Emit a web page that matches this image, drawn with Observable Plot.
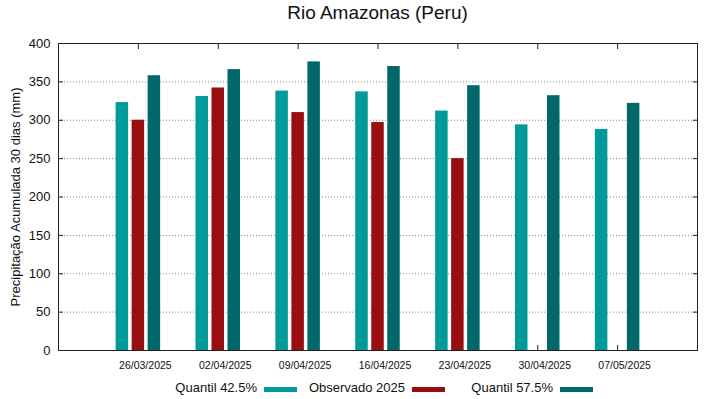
<!DOCTYPE html>
<html>
<head>
<meta charset="utf-8">
<script src="https://cdn.jsdelivr.net/npm/d3@7"></script>
<script src="https://cdn.jsdelivr.net/npm/@observablehq/plot@0.6"></script>
<style>
  html, body { margin: 0; padding: 0; background: #fff; }
  #wrap { position: relative; width: 719px; height: 399px; font-family: "Liberation Sans", Arial, sans-serif; color: #111; }
  #title { position: absolute; left: 58px; width: 639px; top: 1px; text-align: center; font-size: 19px; line-height: 24px; }
  #legend { position: absolute; left: 149px; top: 379.5px; display: flex; font-size: 13px; line-height: 16px; }
  .item { width: 148px; display: flex; justify-content: flex-end; align-items: center; }
  .sw { width: 33px; height: 5px; margin-left: 7px; position: relative; top: 1.5px; }
  #chart { position: absolute; left: 0; top: 0; }
</style>
</head>
<body>
<div id="wrap">
  <div id="chart"></div>
  <div id="title"></div>
  <div id="legend"></div>
</div>
<script>
const title = "Rio Amazonas (Peru)";
const yLabel = "Precipitação Acumulada 30 dias (mm)";
const dates = ["26/03/2025", "02/04/2025", "09/04/2025", "16/04/2025", "23/04/2025", "30/04/2025", "07/05/2025"];
const q425 = [323, 331, 338, 337, 312, 294, 288];
const obs2025 = [300, 342, 310, 297, 250, null, null];
const q575 = [358, 366, 376, 370, 345, 332, 322];
const yTicks = [0, 50, 100, 150, 200, 250, 300, 350, 400];
const seriesNames = ["Quantil 42.5%", "Observado 2025", "Quantil 57.5%"];
const seriesColors = ["#009a9a", "#990e0e", "#006868"];

const rows = dates.map((d, i) => ({date: d, q425: q425[i], obs: obs2025[i], q575: q575[i]}));

const W = 719, H = 399, mL = 58, mR = 22, mT = 43, mB = 49;
const step = (W - mL - mR) / (dates.length + 1);
const barW = 12.5, gap = 16;
function insets(k) {
  const left = step / 2 + k * gap - barW / 2;
  return {insetLeft: left, insetRight: step - left - barW};
}

const blank = () => "";
const chart = Plot.plot({
  width: W, height: H,
  marginLeft: mL, marginRight: mR, marginTop: mT, marginBottom: mB,
  style: {fontFamily: "Liberation Sans, Arial, sans-serif", fontSize: "13px", color: "#111", background: "#fff"},
  x: {type: "band", domain: dates, paddingInner: 0, paddingOuter: 0.5, round: false},
  y: {domain: [0, 400]},
  marks: [
    Plot.gridY(yTicks.slice(1, -1), {stroke: "#888", strokeOpacity: 1, strokeDasharray: "1,2"}),
    Plot.axisY(yTicks, {anchor: "left", tickSize: 0, tickPadding: 8, fontSize: 13, label: yLabel, labelAnchor: "center", labelOffset: 48, labelArrow: "none"}),
    Plot.axisY(yTicks, {anchor: "left", tickSize: 5, dx: 5, tickFormat: blank, label: null, stroke: "#222"}),
    Plot.axisY(yTicks, {anchor: "right", tickSize: 5, dx: -5, tickFormat: blank, label: null, stroke: "#222"}),
    Plot.axisX({anchor: "bottom", tickSize: 0, tickPadding: 11, dx: 7, fontSize: 10.5, label: null}),
    Plot.axisX({anchor: "bottom", tickSize: 5, dy: -5, tickFormat: blank, label: null, stroke: "#222"}),
    Plot.axisX({anchor: "top", tickSize: 5, dy: 5, tickFormat: blank, label: null, stroke: "#222"}),
    Plot.barY(rows, {x: "date", y: "q425", fill: seriesColors[0], ...insets(-1)}),
    Plot.barY(rows.filter(r => r.obs != null), {x: "date", y: "obs", fill: seriesColors[1], ...insets(0)}),
    Plot.barY(rows, {x: "date", y: "q575", fill: seriesColors[2], ...insets(1)}),
    Plot.frame({stroke: "#222"})
  ]
});
document.getElementById("chart").appendChild(chart);
document.getElementById("title").textContent = title;
const legend = document.getElementById("legend");
seriesNames.forEach((n, i) => {
  const it = document.createElement("div");
  it.className = "item";
  const t = document.createElement("span");
  t.textContent = n;
  const s = document.createElement("span");
  s.className = "sw";
  s.style.background = seriesColors[i];
  it.appendChild(t); it.appendChild(s);
  legend.appendChild(it);
});
</script>
</body>
</html>
